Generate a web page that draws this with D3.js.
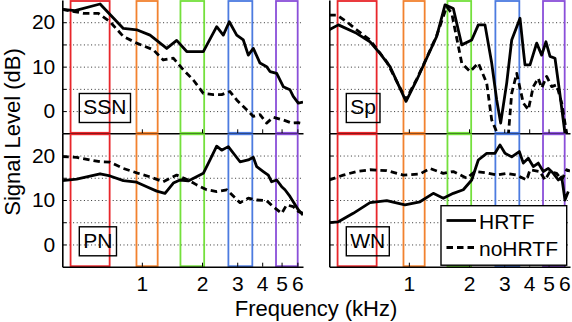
<!DOCTYPE html>
<html>
<head>
<meta charset="utf-8">
<script src="https://cdn.jsdelivr.net/npm/d3@7"></script>
<style>
  html, body { margin: 0; padding: 0; background: #fff; }
  svg { display: block; }
  text { font-family: "Liberation Sans", Arial, Helvetica, sans-serif; fill: #000; }
</style>
</head>
<body>
<svg id="chart" width="572" height="322"></svg>
<script>
// ---------------- data ----------------
const freqTicks = [1, 2, 3, 4, 5, 6];              // kHz
const levelTicks = [0, 5, 10, 15, 20];              // dB (labels on 0, 10, 20)
const levelLabels = [0, 10, 20];
const panelNames = ["SSN", "Sp", "PN", "WN"];
const seriesNames = ["HRTF", "noHRTF"];

// analysis bands (kHz)
const bandLo = [0.44, 0.94, 1.56, 2.71, 4.69];
const bandHi = [0.69, 1.20, 2.05, 3.57, 6.02];

// SSN
const ssnHrtfF  = [0.40,0.463,0.618,0.808,0.942,1.099,1.332,1.494,1.677,2.03,2.368,2.555,2.738,2.982,3.218,3.408,3.611,3.90,4.21,4.376,4.727,5.10,5.508,5.72,6.06,6.4];
const ssnHrtfDb = [22.9,22.6,24.1,18.6,18.3,17.1,14.1,15.9,13.4,13.4,19.0,17.1,20.1,17.1,16.0,12.6,14.1,10.8,10.0,8.9,8.5,5.5,4.8,3.3,1.8,2.0];
const ssnNoF    = [0.40,0.51,0.606,0.693,0.808,0.942,1.141,1.28,1.437,1.612,1.809,2.03,2.277,2.508,2.76,2.982,3.346,3.611,3.90,4.21,4.545,5.10,5.62,6.06,6.4];
const ssnNoDb   = [22.9,22.0,22.0,20.1,16.8,15.3,13.8,11.5,11.9,9.3,7.0,4.0,3.7,3.7,4.4,2.5,0.3,-1.2,-0.8,-2.7,-1.4,-2.0,-2.7,-2.6,-2.8];

// Sp
const spHrtfF  = [0.40,0.444,0.548,0.639,0.717,0.805,0.968,1.095,1.228,1.378,1.517,1.669,1.839,2.063,2.226,2.404,2.597,2.751,2.88,3.087,3.27,3.598,3.738,3.811,4.037,4.36,4.619,4.853,5.084,5.385,5.66,6.04];
const spHrtfDb = [18.3,19.4,17.5,15.6,13.0,10.0,2.2,7.0,11.9,16.8,23.9,23.1,14.9,16.0,19.4,19.4,10.8,2.5,-2.7,6.3,16.0,20.9,13.8,10.4,10.4,15.3,12.6,15.6,12.3,11.9,4.8,-5.0];
const spNoF    = [0.40,0.436,0.489,0.548,0.639,0.775,0.968,1.095,1.228,1.378,1.547,1.639,1.839,2.023,2.226,2.452,2.597,2.80,3.144,3.27,3.464,3.738,3.959,4.193,4.44,4.619,4.892,5.183,5.49,5.816,6.16];
const spNoDb   = [21.6,21.6,20.1,18.3,16.0,11.1,2.6,7.2,12.0,17.0,23.5,22.0,10.8,8.9,10.8,6.3,-2.0,-5.5,-5.5,4.0,8.5,1.8,0.3,5.5,7.4,5.2,7.8,5.5,5.9,1.8,-5.0];

// PN
const pnHrtfF  = [0.40,0.472,0.618,0.693,0.808,0.942,1.058,1.187,1.306,1.437,1.552,1.707,2.03,2.193,2.368,2.508,2.707,3.098,3.408,3.611,3.755,4.051,4.292,4.46,4.727,5.008,5.2,5.508,5.72,6.06,6.4];
const pnHrtfDb = [14.35,14.7,15.9,15.4,14.35,14.0,13.0,12.0,11.5,13.8,14.5,14.3,16.0,19.0,22.1,21.2,22.0,18.6,19.0,19.6,17.5,16.4,15.6,14.1,14.5,13.0,12.3,10.8,9.6,7.8,6.6];
const pnNoF    = [0.40,0.472,0.618,0.693,0.808,0.942,1.099,1.28,1.494,1.707,1.881,2.111,2.368,2.658,3.098,3.408,3.755,4.21,4.545,5.008,5.30,5.72,6.06,6.4];
const pnNoDb   = [19.75,19.6,18.6,18.5,17.1,16.1,15.2,14.1,15.6,14.5,13.4,12.3,11.9,12.3,9.4,10.4,10.0,9.85,8.5,7.0,8.9,8.5,7.4,7.0];

// WN
const wnHrtfF  = [0.40,0.444,0.527,0.639,0.775,0.956,1.137,1.325,1.487,1.669,1.872,2.063,2.226,2.452,2.698,2.857,3.027,3.27,3.569,3.738,3.959,4.193,4.44,4.705,4.985,5.28,5.593,5.816,6.04,6.276];
const wnHrtfDb = [4.9,5.1,7.0,9.4,9.85,8.9,9.6,11.5,10.4,11.5,12.3,14.5,19.0,20.5,20.5,22.4,20.5,19.7,20.9,18.3,19.4,17.5,18.3,16.4,17.1,16.0,14.5,15.2,10.0,11.9];
const wnNoF    = [0.40,0.47,0.548,0.639,0.775,0.938,1.137,1.276,1.487,1.669,1.947,2.143,2.452,2.751,3.087,3.464,3.886,4.037,4.529,4.80,5.084,5.49,5.816,6.16,6.4];
const wnNoDb   = [14.5,15.6,16.4,16.8,16.6,15.6,15.85,17.1,16.0,16.4,14.9,16.4,16.1,15.6,16.0,15.6,14.5,16.8,16.4,14.5,16.4,16.0,14.5,16.8,16.5];

// ---------------- styles / layout ----------------
const bandColors = ["#e8262b", "#f2822f", "#74e03c", "#4c7be0", "#8a4fd9"];
const colX = [[62.3, 303], [329.3, 570]];
const rowY = [[0, 133.3], [133.3, 266.7]];
const FONT = 21;

const panels = [
  { name: panelNames[0], col: 0, row: 0, series: [[ssnHrtfF, ssnHrtfDb], [ssnNoF, ssnNoDb]] },
  { name: panelNames[1], col: 1, row: 0, series: [[spHrtfF,  spHrtfDb],  [spNoF,  spNoDb]] },
  { name: panelNames[2], col: 0, row: 1, series: [[pnHrtfF,  pnHrtfDb],  [pnNoF,  pnNoDb]] },
  { name: panelNames[3], col: 1, row: 1, series: [[wnHrtfF,  wnHrtfDb],  [wnNoF,  wnNoDb]] },
];

const svg = d3.select("#chart");
const dashes = [null, "6.5,4"];

panels.forEach((p, i) => {
  const [x0, x1] = colX[p.col];
  const [y0, y1] = rowY[p.row];
  const x = d3.scaleLog().domain([0.4, 6.4]).range([x0, x1]);
  const y = d3.scaleLinear().domain([-5, 25]).range([y1, y0]);
  const g = svg.append("g");

  const clipId = "clip" + i;
  svg.append("clipPath").attr("id", clipId)
    .append("rect").attr("x", x0).attr("y", y0).attr("width", x1 - x0).attr("height", y1 - y0);

  // dotted grid
  g.append("g").selectAll("line").data(levelTicks).join("line")
    .attr("x1", x0).attr("x2", x1)
    .attr("y1", d => y(d) + 0.5).attr("y2", d => y(d) + 0.5)
    .attr("stroke", "#333").attr("stroke-width", 1).attr("stroke-dasharray", "1,2.6");

  // bands
  g.append("g").selectAll("rect").data(bandLo).join("rect")
    .attr("x", (d) => x(d))
    .attr("width", (d, k) => x(bandHi[k]) - x(d))
    .attr("y", y(25) + 1).attr("height", y(-5) - y(25) - 1.5)
    .attr("fill", "none")
    .attr("stroke", (d, k) => bandColors[k]).attr("stroke-width", 1.8);

  // curves
  const line = d3.line().x(d => x(d[0])).y(d => y(d[1]));
  p.series.forEach((s, k) => {
    const pts = s[0].map((f, j) => [f, s[1][j]]);
    g.append("path").datum(pts)
      .attr("clip-path", `url(#${clipId})`)
      .attr("d", line)
      .attr("fill", "none").attr("stroke", "#000")
      .attr("stroke-width", 2.8)
      .attr("stroke-linejoin", "round")
      .attr("stroke-dasharray", dashes[k]);
  });

  // axes
  const ax = d3.axisBottom(x).tickValues(freqTicks).tickFormat(d3.format("d"))
    .tickSizeInner(-4).tickSizeOuter(0).tickPadding(9);
  const axG = g.append("g").attr("transform", `translate(0,${y1})`).call(ax);
  if (p.row === 0) axG.selectAll(".tick text").remove();

  const ay = d3.axisLeft(y).tickValues(levelTicks)
    .tickFormat(d => (p.col === 0 && levelLabels.includes(d)) ? d3.format("d")(d) : "")
    .tickSizeInner(-4).tickSizeOuter(0).tickPadding(7);
  g.append("g").attr("transform", `translate(${x0},0)`).call(ay);

  g.selectAll(".domain").attr("stroke", "#000").attr("stroke-width", 1.6);
  g.selectAll(".tick line").attr("stroke", "#000").attr("stroke-width", 1);
  g.selectAll(".tick text").attr("font-size", FONT).attr("font-family", null);

  // panel name box
  const t = g.append("text").text(p.name)
    .attr("x", x0 + 21).attr("y", y0 + 114.3)
    .attr("font-size", FONT);
  const bb = t.node().getBBox();
  g.append("rect")
    .attr("x", x0 + 17).attr("y", y0 + 93.5)
    .attr("width", bb.width + 8).attr("height", 29)
    .attr("fill", "none").attr("stroke", "#000").attr("stroke-width", 1.4);
});

// legend
const lg = svg.append("g");
lg.append("rect").attr("x", 441).attr("y", 205.7).attr("width", 125.7).attr("height", 59.5)
  .attr("fill", "#fff").attr("stroke", "#000").attr("stroke-width", 1.4);
seriesNames.forEach((name, k) => {
  const yy = [220.5, 247.5][k];
  lg.append("line").attr("x1", 446.5).attr("x2", 476).attr("y1", yy).attr("y2", yy)
    .attr("stroke", "#000").attr("stroke-width", 2.8).attr("stroke-dasharray", dashes[k]);
  lg.append("text").attr("x", 479).attr("y", yy + 8).attr("font-size", FONT).text(name);
});

// axis titles
svg.append("text").attr("x", 316).attr("y", 316).attr("text-anchor", "middle")
  .attr("font-size", 22).text("Frequency (kHz)");
svg.append("text").attr("transform", "translate(20,132) rotate(-90)")
  .attr("text-anchor", "middle").attr("font-size", 22).text("Signal Level (dB)");
</script>
</body>
</html>
